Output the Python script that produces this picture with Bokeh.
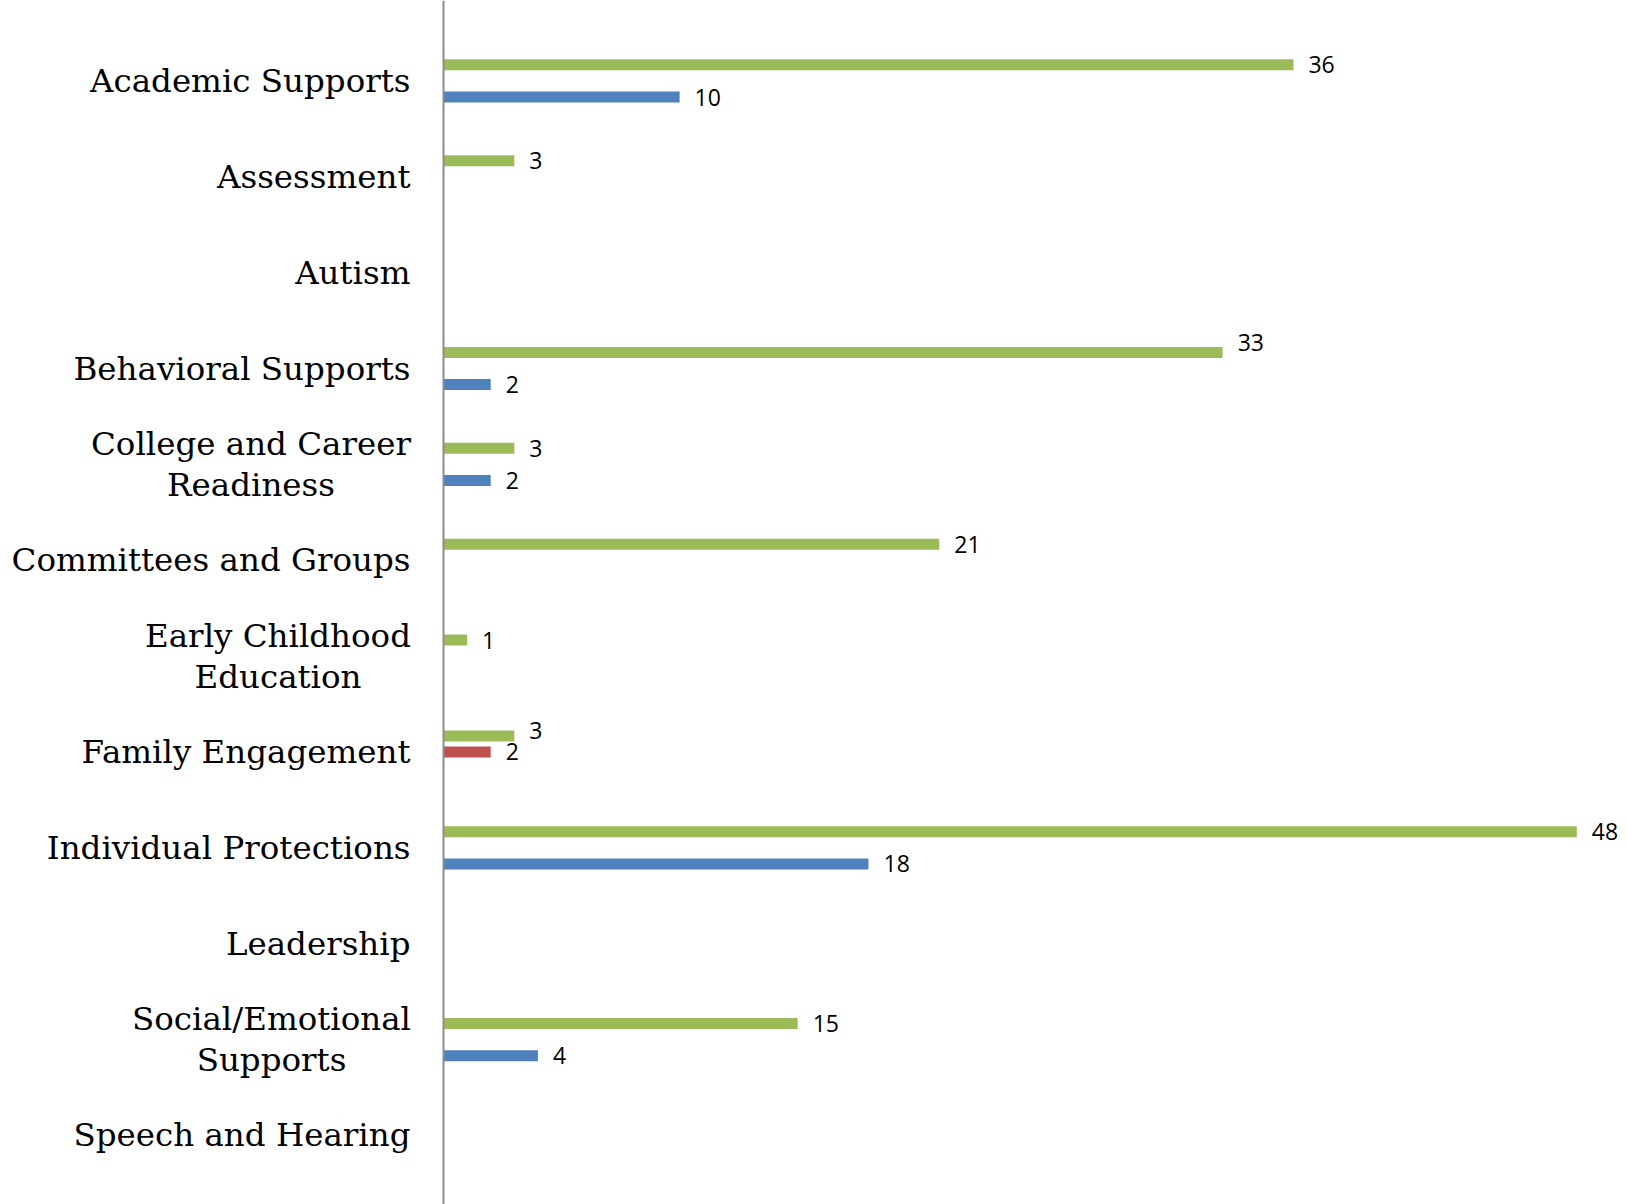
from bokeh.plotting import figure
from bokeh.models import ColumnDataSource, Range1d, Span
from bokeh.core.properties import value
from bokeh.embed import file_html
from bokeh.resources import INLINE

# ---- data ----
categories = ["Academic Supports", "Assessment", "Autism", "Behavioral Supports",
              "College and Career Readiness", "Committees and Groups",
              "Early Childhood Education", "Family Engagement",
              "Individual Protections", "Leadership",
              "Social/Emotional Supports", "Speech and Hearing"]
label_lines = [["Academic Supports"], ["Assessment"], ["Autism"], ["Behavioral Supports"],
               ["College and Career", "Readiness"], ["Committees and Groups"],
               ["Early Childhood", "Education"], ["Family Engagement"],
               ["Individual Protections"], ["Leadership"],
               ["Social/Emotional", "Supports"], ["Speech and Hearing"]]
series_green = [36, 3, 0, 33, 3, 21, 1, 3, 48, 0, 15, 0]
series_red = [0, 0, 0, 0, 0, 0, 0, 2, 0, 0, 0, 0]
series_blue = [10, 0, 0, 2, 2, 0, 0, 0, 18, 0, 4, 0]

# ---- style ----
GREEN, RED, BLUE = "#9BBB59", "#C0504D", "#4F81BD"
PX_PER_UNIT = 23.61
W, H = 1627, 1204
AXIS_X = 443          # px from figure left
CAT0_Y = 80.4         # px from figure top
CAT_STEP = 95.87      # px per category
OFFSET = 16.1 / CAT_STEP
BAR_H = 11 / CAT_STEP
LABEL_RIGHT = (410 - AXIS_X) / PX_PER_UNIT
LINE_GAP = 20.5 / CAT_STEP
CAT_FONT = "32.5px"
label_nudge = {("green", 3): -10, ("green", 7): -5}

p = figure(width=W, height=H, output_backend="svg", toolbar_location=None,
           x_range=Range1d(-AXIS_X / PX_PER_UNIT, (W - AXIS_X) / PX_PER_UNIT),
           y_range=Range1d((H - CAT0_Y) / CAT_STEP, -CAT0_Y / CAT_STEP),
           min_border=0)
p.axis.visible = False
p.grid.visible = False
p.outline_line_color = None
p.background_fill_color = "white"
p.border_fill_color = "white"

series = [("green", series_green, GREEN, -OFFSET),
          ("red", series_red, RED, 0.0),
          ("blue", series_blue, BLUE, OFFSET)]

for name, vals, color, off in series:
    ys = [i + off for i in range(len(categories))]
    src = ColumnDataSource(dict(y=ys, right=vals))
    p.hbar(y="y", left=0, right="right", height=BAR_H, source=src,
           fill_color=color, line_color=None)
    lx, ly, lt, lo = [], [], [], []
    for i, v in enumerate(vals):
        if v > 0:
            lx.append(v); ly.append(i + off); lt.append(str(v))
            lo.append(label_nudge.get((name, i), 0))
    lsrc = ColumnDataSource(dict(x=lx, y=ly, t=lt, yo=lo))
    p.text(x="x", y="y", text="t", y_offset="yo", x_offset=15, source=lsrc,
           text_font=value("Open Sans"), text_font_size="23px",
           text_color="#000000", text_align="left", text_baseline="middle")

# category labels
sx, sy, st = [], [], []
for i, lines in enumerate(label_lines):
    if len(lines) == 1:
        sx.append(LABEL_RIGHT); sy.append(i); st.append(lines[0])
p.text(x="x", y="y", text="t", source=ColumnDataSource(dict(x=sx, y=sy, t=st)),
       text_font=value("DejaVu Serif"), text_font_size=CAT_FONT, text_color="#000000",
       text_align="right", text_baseline="middle")

# two-line labels: lines centered on each other, block right-aligned
first_w = {4: 319, 6: 265, 10: 278}   # px width of first line
mx, my, mt = [], [], []
for i, lines in enumerate(label_lines):
    if len(lines) == 2:
        cx = LABEL_RIGHT - first_w[i] / 2 / PX_PER_UNIT
        mx += [cx, cx]; my += [i - LINE_GAP, i + LINE_GAP]; mt += lines
p.text(x="x", y="y", text="t", source=ColumnDataSource(dict(x=mx, y=my, t=mt)),
       text_font=value("DejaVu Serif"), text_font_size=CAT_FONT, text_color="#000000",
       text_align="center", text_baseline="middle")

p.add_layout(Span(location=0, dimension="height", line_color="#8C8C8C", line_width=2))

open("out.html", "w").write(file_html(p, INLINE))
